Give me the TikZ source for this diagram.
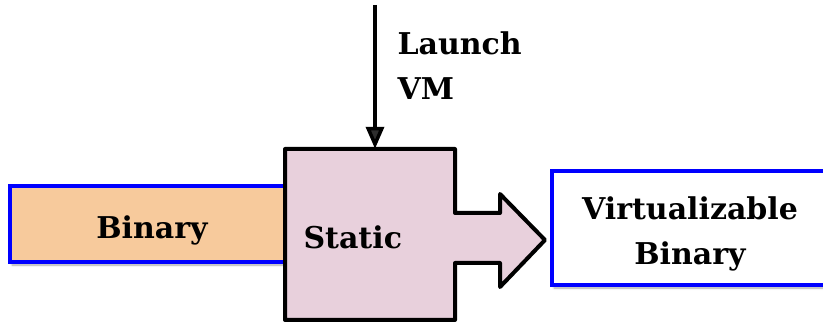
\documentclass[tikz,border=0pt]{standalone}
\usepackage{fontspec}
\setmainfont{DejaVu Serif}
\usetikzlibrary{arrows.meta,shadows.blur}
\definecolor{peach}{HTML}{F7CA9C}
\definecolor{mauve}{HTML}{E8D0DC}
\tikzset{
  x=1pt, y=-1pt,
  label font/.style={font=\fontsize{30}{45}\selectfont\bfseries},
  bluebox/.style={draw=blue, line width=4pt, blur shadow={shadow xshift=2pt, shadow yshift=-3pt, shadow blur steps=6, shadow opacity=35}},
  stage/.style={draw=black, line width=4pt, line join=round, fill=mauve},
  launcharrow/.style={line width=3.5pt, -{Triangle[length=22pt,width=18pt]}},
}
\begin{document}
\begin{tikzpicture}
\useasboundingbox (0,0) rectangle (823,323);
% input binary
\path[bluebox, fill=peach] (10,186) rectangle (300,262);
\node[label font, anchor=base] (bin) at (152,239) {Binary};
% output binary, running off the right edge
\path[bluebox, fill=white] (552,171) rectangle (840,285);
\node[label font, align=center, anchor=center] (vbin) at (690,234) {Virtualizable\\Binary};
% static stage: box merged with its outgoing arrow
\path[stage] (285,149) -- (455,149) -- (455,213) -- (500,213) -- (500,194)
  -- (545,240) -- (500,287) -- (500,263) -- (455,263) -- (455,320)
  -- (285,320) -- cycle;
\node[minimum width=170pt, minimum height=171pt, inner sep=0pt] (static) at (370,234.5) {};
\node[label font, anchor=base west] (stlbl) at (300,249) {Static};
% VM launch
\coordinate (top) at (375,5);
\draw[launcharrow] (top) -- (top |- static.north);
\node[label font, align=left, anchor=base west] (launch) at (394,100) {Launch\\VM};
\end{tikzpicture}
\end{document}
